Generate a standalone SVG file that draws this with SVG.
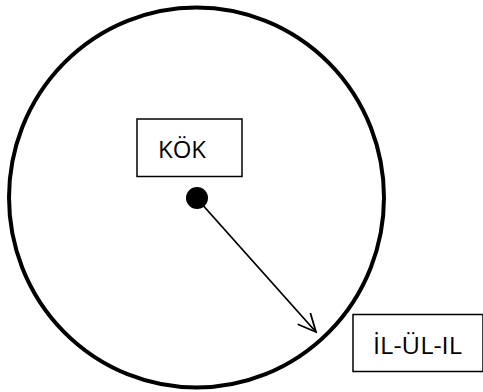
<svg xmlns="http://www.w3.org/2000/svg" width="483" height="392" viewBox="0 0 483 392">
<defs>
<style>
.box{fill:#fff;stroke:#000;stroke-width:1.5}
.lbl{font-family:"Open Sans","Noto Sans",sans-serif;font-size:24px;fill:#000}
</style>
<marker id="arr" viewBox="0 0 22 22" refX="20" refY="11" markerWidth="22" markerHeight="22" markerUnits="userSpaceOnUse" orient="auto">
<path d="M2,2.5 L20,11 L2,19.5" fill="none" stroke="#000" stroke-width="1.8"/>
</marker>
</defs>
<rect width="483" height="392" fill="#fff"/>
<g id="circle">
<ellipse cx="196.5" cy="197.5" rx="187.5" ry="190" fill="none" stroke="#000" stroke-width="4"/>
</g>
<g id="kok">
<rect class="box" x="137" y="119" width="105" height="57.5"/>
<text class="lbl" x="158" y="158" textLength="48" lengthAdjust="spacingAndGlyphs">KÖK</text>
</g>
<g id="center">
<circle cx="197" cy="198" r="11" fill="#000"/>
</g>
<g id="ilulil">
<rect class="box" x="353" y="314.5" width="130" height="57"/>
<text class="lbl" x="373" y="354" textLength="89" lengthAdjust="spacingAndGlyphs">İL-ÜL-IL</text>
</g>
<g id="connectors">
<line x1="200" y1="202" x2="316" y2="332" stroke="#000" stroke-width="1.8" marker-end="url(#arr)"/>
</g>
</svg>
